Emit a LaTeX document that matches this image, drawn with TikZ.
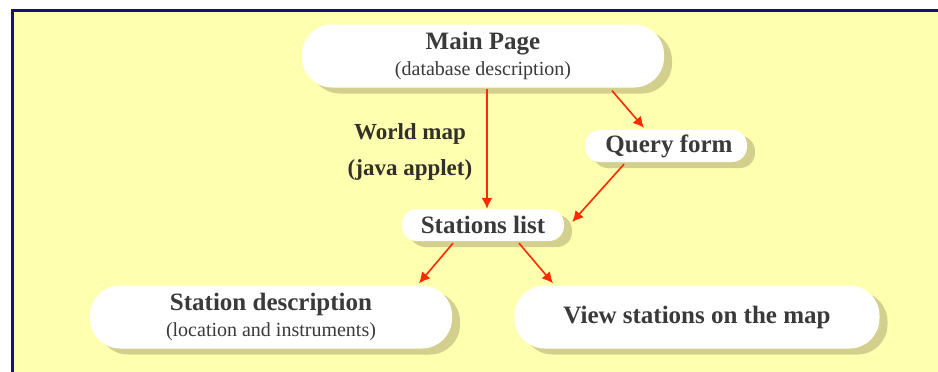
\documentclass[tikz,border=0pt]{standalone}
\usepackage{fontspec}
\setmainfont{Liberation Serif}
\usetikzlibrary{shadows,arrows.meta}
\definecolor{paper}{HTML}{FFFFB0}
\definecolor{frame}{HTML}{1A0F7A}
\definecolor{shade}{HTML}{D3CF8C}
\definecolor{ink}{HTML}{3A3A3A}
\definecolor{link}{HTML}{FF2A00}
\newcommand{\titlefont}{\fontsize{25}{28}\selectfont\bfseries}
\newcommand{\subfont}{\fontsize{20}{23}\selectfont}
\tikzset{
  pill/.style={draw=none, fill=white, align=center, text=ink, inner sep=0pt,
    drop shadow={shadow xshift=8pt, shadow yshift=-6pt, fill=shade, opacity=1}},
  bigpill/.style={pill, rounded corners=30pt, minimum width=362pt, minimum height=63pt},
  smallpill/.style={pill, rounded corners=15pt, minimum width=162pt, minimum height=32pt},
  title/.style={font=\titlefont},
  flow/.style={draw=link, line width=1.6pt, -{Latex[length=11pt,width=11pt]}},
}
\begin{document}
\begin{tikzpicture}[x=1pt, y=-1pt]
  \useasboundingbox (0,0) rectangle (938,372);
  % frame and yellow panel
  \fill[paper] (12,10) rectangle (938,372);
  \draw[frame, line width=3pt] (12.5,372) -- (12.5,10.5) -- (938,10.5);

  \node[bigpill] (main) at (483,56)
    {{\titlefont Main Page}\\[6pt]{\subfont (database description)}};
  \node[smallpill, title] (query) at (666,146) {\hspace*{6pt}Query form};
  \node[smallpill, title] (stations) at (483,225) {Stations list};
  \node[bigpill] (desc) at (271,317)
    {{\titlefont Station description}\\[6pt]{\subfont (location and instruments)}};
  \node[bigpill, minimum width=365pt, title] (view) at (697,317) {View stations on the map};

  \node[align=center, text=black!85!olive, font=\fontsize{23}{26}\selectfont\bfseries] (wmap) at (410,152)
    {World map\\[10pt](java applet)};

  % links
  \coordinate (m1) at ([xshift=4pt, yshift=-1pt]main.south);
  \coordinate (m2) at ([xshift=129pt, yshift=-3pt]main.south);
  \draw[flow] (m1) -- (m1 |- stations.north);
  \draw[flow] (m2) -- ([xshift=-22pt, yshift=2pt]query.north);
  \draw[flow] ([xshift=-42pt, yshift=-2pt]query.south) -- ([xshift=8pt, yshift=3pt]stations.east);
  \draw[flow] ([xshift=-30pt, yshift=-2pt]stations.south) -- ([xshift=148pt, yshift=2pt]desc.north);
  \draw[flow] ([xshift=36pt, yshift=-2pt]stations.south) -- ([xshift=-144pt, yshift=2pt]view.north);
\end{tikzpicture}
\end{document}
